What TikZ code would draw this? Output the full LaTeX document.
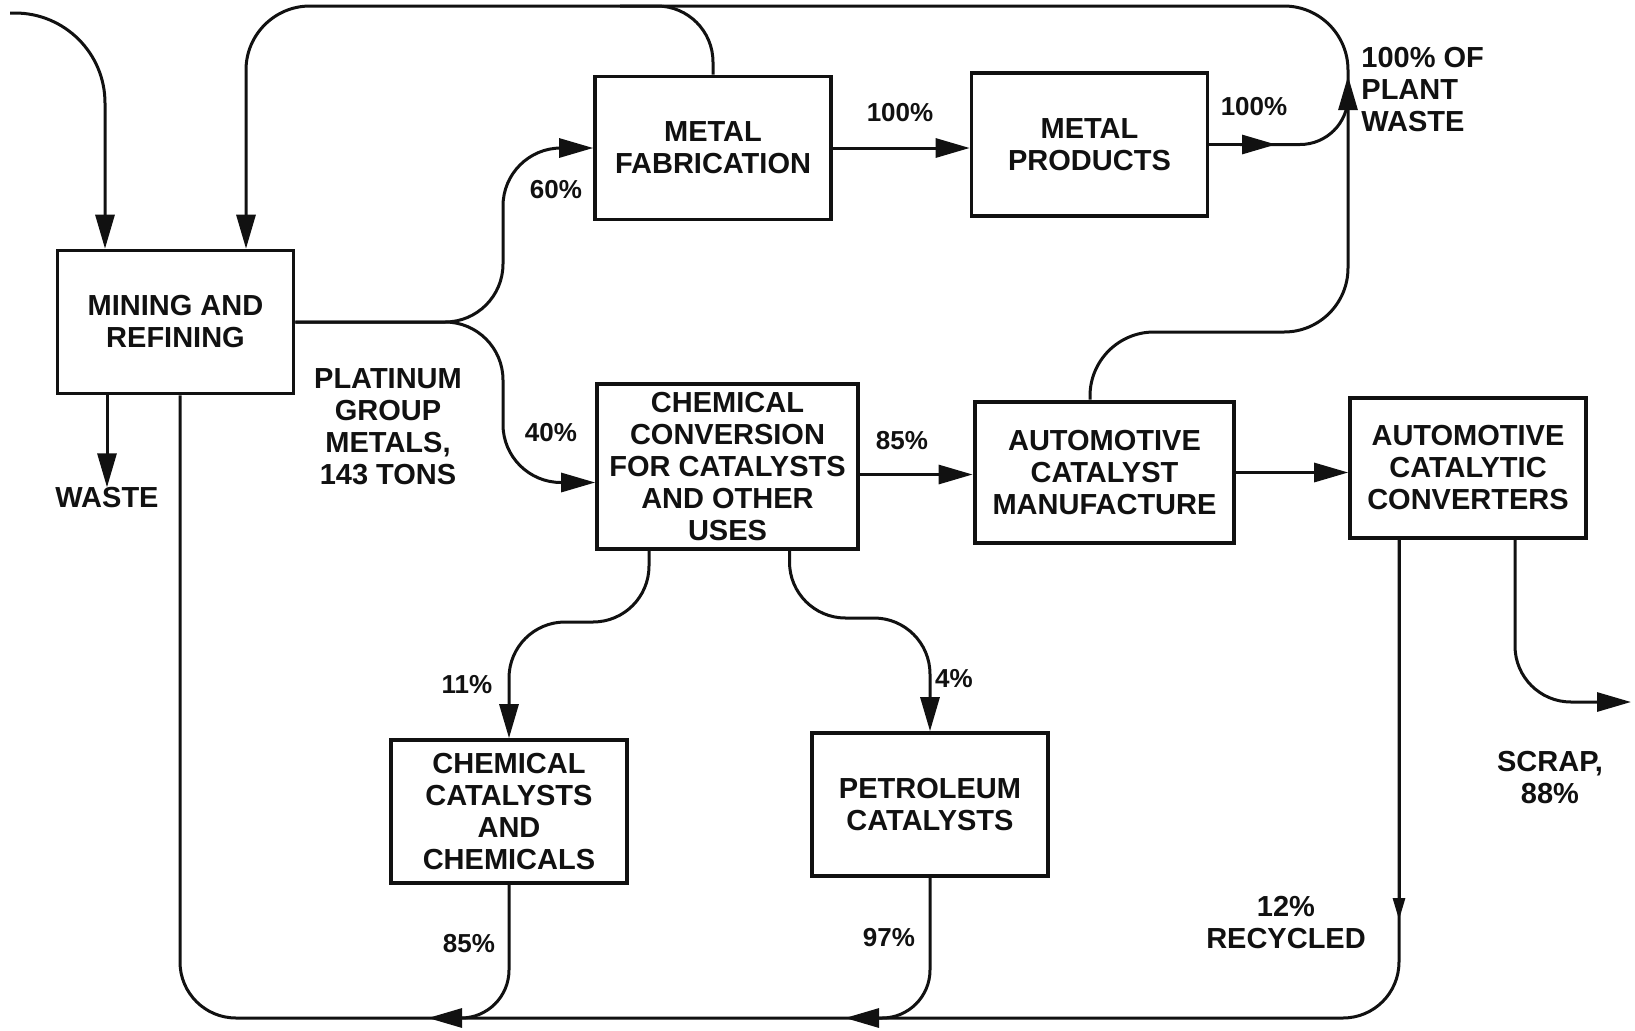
\documentclass[tikz,border=0pt]{standalone}
\usepackage{fontspec}
\setmainfont{Liberation Sans}
\usetikzlibrary{arrows.meta,positioning,calc}
\definecolor{ink}{HTML}{111111}
\newcommand{\boxfont}{\fontsize{14.5}{16}\selectfont\bfseries}
\newcommand{\pctfont}{\fontsize{13}{15.5}\selectfont\bfseries}
\tikzset{
  box/.style={draw=ink,line width=1.8pt,fill=white,align=center,font=\boxfont,text=ink,inner sep=2pt,minimum width=118pt,minimum height=71.5pt},
  flow/.style={-{Triangle[length=17pt,width=9.5pt]},line width=1.5pt,draw=ink},
  wire/.style={line width=1.5pt,draw=ink},
  lbl/.style={font=\boxfont,text=ink,align=center,inner sep=0pt},
  pct/.style={font=\pctfont,text=ink,inner sep=0pt}
}

\begin{document}
\begin{tikzpicture}[x=0.5pt,y=-0.5pt]
  \fill[white] (0,0) rectangle (1635,1030);
  \useasboundingbox (0,0) rectangle (1635,1030);
  % boxes
  \node[box] (mine) at (175.5,322) {MINING AND\\REFINING};
  \node[box] (fab) at (713,148) {METAL\\FABRICATION};
  \node[box] (prod) at (1089.5,144.5) {METAL\\PRODUCTS};
  \node[box,minimum width=130.5pt,minimum height=82.5pt] (conv) at (727.5,466.5) {CHEMICAL\\CONVERSION\\FOR CATALYSTS\\AND OTHER\\USES};
  \node[box,line width=2.4pt,minimum width=129.5pt,minimum height=70.5pt] (acm) at (1104.5,472.5) {AUTOMOTIVE\\CATALYST\\MANUFACTURE};
  \node[box,minimum height=70pt] (cat) at (1468,468) {AUTOMOTIVE\\CATALYTIC\\CONVERTERS};
  \node[box] (chemcat) at (509,811.5) {CHEMICAL\\CATALYSTS\\AND\\CHEMICALS};
  \node[box] (petro) at (930,804.5) {PETROLEUM\\CATALYSTS};
  % labels
  \node[lbl] (waste) at (107,498) {WASTE};
  \node[lbl] (pgm) at (388,426.5) {PLATINUM\\GROUP\\METALS,\\143 TONS};
  \node[lbl,align=left,anchor=west] (plant) at (1361,90) {100\% OF\\PLANT\\WASTE};
  \node[lbl] (scrap) at (1550,778) {SCRAP,\\88\%};
  \node[lbl] (recyc) at (1286,923) {12\%\\RECYCLED};
  \node[pct] (p60) at (556,190) {60\%};
  \node[pct] (p40) at (551,433) {40\%};
  \node[pct] (p100a) at (900,113) {100\%};
  \node[pct] (p100b) at (1254,107) {100\%};
  \node[pct] (p85a) at (902,441) {85\%};
  \node[pct] (p11) at (467,685) {11\%};
  \node[pct] (p4) at (954,679) {4\%};
  \node[pct] (p85b) at (469,944) {85\%};
  \node[pct] (p97) at (889,938) {97\%};
  % connector ends
  \coordinate (src) at (10,13);
  \coordinate (mtopa) at ([xshift=-35.25pt]mine.north);
  \coordinate (mtopb) at ([xshift=35.25pt]mine.north);
  \coordinate (mbot) at ([xshift=2.25pt]mine.south);
  \coordinate (atop) at ([xshift=-7.25pt]acm.north);
  \coordinate (rc) at ([xshift=-34.5pt]cat.south);
  \coordinate (sc) at ([xshift=23.5pt]cat.south);
  \coordinate (cl) at ([xshift=-39.25pt]conv.south);
  \coordinate (cr) at ([xshift=31pt]conv.south);
  \coordinate (cin) at ([yshift=-8pt]conv.west);
  \coordinate (pj) at (1240,144.5);
  \coordinate (pw) at (1348,76);
  \coordinate (b1) at (428,1018);
  \coordinate (b2) at (845,1018);
  \coordinate (scrapend) at (1631,702);
  % connectors
  \draw[flow,rounded corners=45pt] (src) -| (mtopa);
  \draw[flow,rounded corners=32pt] (atop) |- (1348,332) |- (246,6) -- (mtopb);
  \draw[wire,rounded corners=28pt] (fab.north) |- (620,6);
  \draw[flow] (prod.east) -- (1276,144.5);
  \draw[flow,rounded corners=24pt] (pj) -| (pw);
  \draw[flow,rounded corners=29pt] (mine.east) -- (mine.east -| 503,0) -- (fab.west -| 503,0) -- (fab.west);
  \draw[flow,rounded corners=29pt] (mine.east) -- (mine.east -| 503,0) -- (cin -| 503,0) -- (cin);
  \draw[flow] (fab.east) -- (fab.east -| prod.west);
  \draw[flow] ([yshift=-4pt]conv.east) -- ([yshift=-4pt]conv.east -| acm.west);
  \draw[flow] (acm.east) -- (acm.east -| cat.west);
  \draw[flow,rounded corners=28pt] (cl) -- (cl |- 0,622) -| (chemcat.north);
  \draw[flow,rounded corners=28pt] (cr) -- (cr |- 0,618) -| (petro.north);
  \draw[flow,rounded corners=24pt] (chemcat.south) |- (b1);
  \draw[flow,rounded corners=24pt] (petro.south) |- (b2);
  \draw[wire,rounded corners=28pt] (rc) -- (rc |- 0,1018) -| (mbot);
  \draw[flow,-{Triangle[length=11pt,width=6pt]}] (rc) -- (rc |- 0,920);
  \draw[flow,rounded corners=28pt] (sc) |- (scrapend);
  \draw[flow] (waste.north |- mine.south) -- (waste.north);
\end{tikzpicture}
\end{document}
